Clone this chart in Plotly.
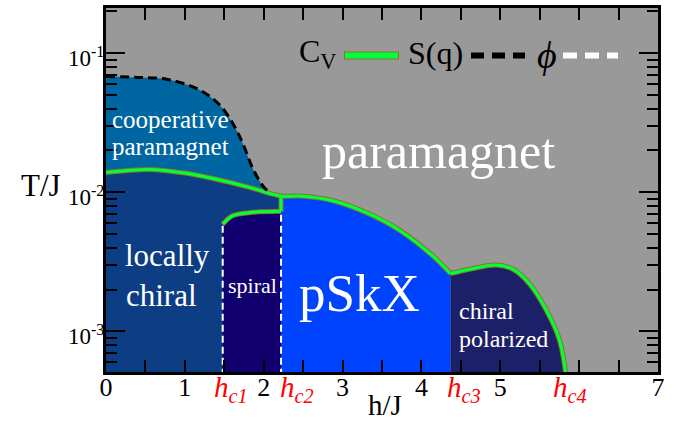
import plotly.graph_objects as go

# ---------------- data ----------------
# critical fields
hc1, hc2, hc3, hc4 = 1.48, 2.22, 4.37, 5.83

# C_V peak line (main upper boundary of the ordered phases)
h_cv = [0.00, 0.56, 0.98, 1.40, 1.83, 2.22, 2.46, 2.88, 3.31, 3.73, 4.14, 4.37,
        4.61, 4.95, 5.16, 5.37, 5.59, 5.75, 5.84]
T_cv = [0.0139, 0.0146, 0.0138, 0.0124, 0.0108, 0.0094, 0.0094, 0.0087, 0.0071,
        0.0053, 0.0035, 0.0026, 0.0028, 0.0030, 0.0028, 0.0022, 0.0014, 0.00087, 0.00045]

# S(q) crossover line (top of cooperative paramagnet)
h_sq = [0.00, 0.40, 0.77, 1.19, 1.44, 1.61, 1.74, 1.86, 1.99, 2.08]
T_sq = [0.068, 0.067, 0.065, 0.0543, 0.0425, 0.0311, 0.0221, 0.0149, 0.0111, 0.0099]

# C_V line on top of the spiral phase
h_sp = [1.48, 1.61, 1.83, 2.22]
T_sp = [0.0059, 0.0068, 0.00715, 0.0073]

T_FLOOR = 4e-4  # below the lower axis limit

x_tickvals = [0, 1, 2, 3, 4, 5, 6, 7]
x_ticktext = ["0", "1", "2", "3", "4", "5", "", "7"]
y_tickvals = [1e-3, 1e-2, 1e-1]
y_ticktext = ["10<sup>-3</sup>", "10<sup>-2</sup>", "10<sup>-1</sup>"]
y_minor = [k * 10.0 ** e for e in (-4, -3, -2, -1) for k in range(2, 10)]

# colours
C_GRAY = "#999999"
C_COOP = "#0066a1"
C_LC = "#0d3e84"
C_SPIRAL = "#12006e"
C_PSKX = "#0043ff"
C_CP = "#1c2068"
C_GREEN = "#00ff3c"
C_OLIVE = "#8a7420"

FONT = "Liberation Serif"

fig = go.Figure()


def band(x0, x1, hx, ty, color):
    fig.add_trace(go.Scatter(x=[x0, x1], y=[T_FLOOR, T_FLOOR], mode="lines",
                             line=dict(width=0), hoverinfo="skip", showlegend=False))
    fig.add_trace(go.Scatter(x=hx, y=ty, mode="lines", line=dict(width=0, shape="spline"),
                             fill="tonexty", fillcolor=color, hoverinfo="skip",
                             showlegend=False))


i2 = h_cv.index(hc2)
i3 = h_cv.index(hc3)

# cooperative paramagnet (under S(q) line)
band(h_sq[0], h_sq[-1], h_sq, T_sq, C_COOP)
# locally chiral (under C_V line up to hc2)
band(h_cv[0], hc2, h_cv[:i2 + 1], T_cv[:i2 + 1], C_LC)
# pSkX
band(hc2, hc3, h_cv[i2:i3 + 1], T_cv[i2:i3 + 1], C_PSKX)
# chiral polarized
band(hc3, h_cv[-1], h_cv[i3:], T_cv[i3:], C_CP)
# spiral
band(hc1, hc2, h_sp, T_sp, C_SPIRAL)

# C_V lines (outline + green core)
cv_x = h_cv[:i3 + 1] + [None] + h_cv[i3:] + [None] + h_sp + [None] + [hc2, hc2]
cv_y = T_cv[:i3 + 1] + [None] + T_cv[i3:] + [None] + T_sp + [None] + [T_sp[-1], T_cv[i2]]
fig.add_trace(go.Scatter(x=cv_x, y=cv_y, mode="lines",
                         line=dict(color=C_OLIVE, width=5, shape="spline"),
                         hoverinfo="skip", showlegend=False))
fig.add_trace(go.Scatter(x=cv_x, y=cv_y, mode="lines",
                         line=dict(color=C_GREEN, width=3, shape="spline"),
                         hoverinfo="skip", showlegend=False))

# S(q) dashed black line
fig.add_trace(go.Scatter(x=h_sq, y=T_sq, mode="lines",
                         line=dict(color="black", width=3, shape="spline", dash="9px,5px"),
                         hoverinfo="skip", showlegend=False))

# phi: white dashed vertical lines at hc1, hc2
fig.add_trace(go.Scatter(x=[hc1, hc1, None, hc2, hc2],
                         y=[T_FLOOR, T_sp[0], None, T_FLOOR, T_sp[-1]],
                         mode="lines", line=dict(color="white", width=2, dash="7px,4px"),
                         hoverinfo="skip", showlegend=False))

# ---------------- layout ----------------
L, R, T, B = 106, 31, 5, 52
W, H = 689, 424
PW, PH = W - L - R, H - T - B


def px(x):
    return (x - L) / PW


def py(y):
    return 1 - (y - T) / PH


annotations = []


def txt(text, x, y, size, color="white", xanchor="center", **kw):
    annotations.append(dict(text=text, x=px(x), y=py(y), xref="paper", yref="paper",
                            showarrow=False, xanchor=xanchor, yanchor="middle",
                            font=dict(family=FONT, size=size, color=color), **kw))


# region labels
txt("paramagnet", 438, 149, 50)
txt("cooperative", 110, 117, 25, xanchor="left")
txt("paramagnet", 110, 145, 25, xanchor="left")
txt("locally", 123, 255, 31, xanchor="left")
txt("chiral", 124, 295, 31, xanchor="left")
txt("spiral", 252, 285, 22)
txt("pSkX", 359, 292, 53)
txt("chiral", 457, 310, 24, xanchor="left")
txt("polarized", 457, 339, 24, xanchor="left")

# axis titles
txt("T/J", 41, 184, 31, color="black")
txt("h/J", 385, 405, 29, color="black")

# critical field labels
for lab, xc in (("1", 231), ("2", 297), ("3", 464), ("4", 570)):
    txt("<i>h</i><sub><i>c%s</i></sub>" % lab, xc, 389, 29, color="red")

# legend
txt("C<sub>V</sub>", 318, 51, 32, color="black")
txt("S(q)", 435, 50, 32, color="black")
txt("<i>ϕ</i>", 547, 52, 38, color="black")

shapes = [
    dict(type="line", xref="paper", yref="paper", x0=px(344), x1=px(399), y0=py(53), y1=py(53),
         line=dict(color=C_OLIVE, width=8)),
    dict(type="line", xref="paper", yref="paper", x0=px(345), x1=px(398), y0=py(53), y1=py(53),
         line=dict(color=C_GREEN, width=6)),
    dict(type="line", xref="paper", yref="paper", x0=px(471), x1=px(525), y0=py(53), y1=py(53),
         line=dict(color="black", width=6, dash="13px,8px")),
    dict(type="line", xref="paper", yref="paper", x0=px(563), x1=px(618), y0=py(53), y1=py(53),
         line=dict(color="white", width=6, dash="14px,8px")),
]

fig.update_layout(
    width=W, height=H,
    margin=dict(l=L, r=R, t=T, b=B, pad=0),
    paper_bgcolor="white", plot_bgcolor=C_GRAY,
    font=dict(family=FONT, color="black"),
    showlegend=False,
    annotations=annotations,
    shapes=shapes,
    xaxis=dict(range=[0, 7], tickvals=x_tickvals, ticktext=x_ticktext,
               ticks="inside", ticklen=12, tickwidth=2, tickcolor="black",
               showline=True, linewidth=3, linecolor="black", mirror="ticks",
               showgrid=False, zeroline=False, ticklabelstandoff=-10,
               minor=dict(dtick=0.5, tick0=0, ticks="inside", ticklen=12, tickwidth=2,
                          tickcolor="black", showgrid=False),
               tickfont=dict(family=FONT, size=26, color="black")),
    yaxis=dict(type="log", range=[-3.292, -0.675], tickvals=y_tickvals, ticktext=y_ticktext,
               ticks="inside", ticklen=19, tickwidth=2, tickcolor="black",
               showline=True, linewidth=3, linecolor="black", mirror="ticks",
               showgrid=False, zeroline=False, ticklabelstandoff=-6, ticklabelshift=5,
               minor=dict(tickvals=y_minor, ticks="inside", ticklen=11, tickwidth=2,
                          tickcolor="black", showgrid=False),
               tickfont=dict(family=FONT, size=23, color="black")),
)

fig.write_html("out.html", config={"displayModeBar": False},
               post_script="document.body.style.margin='0';")
